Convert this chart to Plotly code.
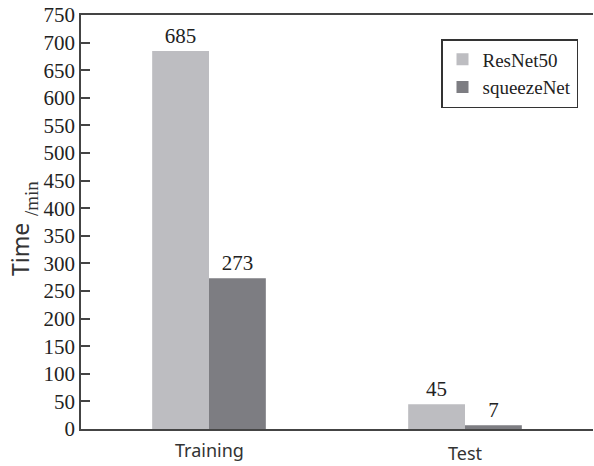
import plotly.graph_objects as go

categories = ["Training", "Test"]
resnet50 = [685, 45]
squeezenet = [273, 7]
series_names = ["ResNet50", "squeezeNet"]
y_ticks = list(range(0, 751, 50))

serif = "Liberation Serif, Times New Roman, serif"
sans = "Noto Sans, Roboto, sans-serif"

L, T, R, B = 81, 15, 593, 429  # plot area in page pixels
W, H = 594, 466

fig = go.Figure()
fig.add_trace(go.Bar(x=categories, y=resnet50, name=series_names[0],
                     marker=dict(color="#bdbdc1", line=dict(width=0)),
                     text=[str(v) for v in resnet50], textposition="outside",
                     textfont=dict(family=serif, size=21, color="#222"),
                     cliponaxis=False))
fig.add_trace(go.Bar(x=categories, y=squeezenet, name=series_names[1],
                     marker=dict(color="#7d7d82", line=dict(width=0)),
                     text=[str(v) for v in squeezenet], textposition="outside",
                     textfont=dict(family=serif, size=21, color="#222"),
                     cliponaxis=False))

fig.update_layout(
    width=W, height=H,
    margin=dict(l=L, r=W - R, t=T, b=H - B, autoexpand=False),
    paper_bgcolor="white", plot_bgcolor="white",
    barmode="group", bargap=0.556, bargroupgap=0,
    showlegend=True,
    legend=dict(x=(441 - L) / (R - L), y=(B - 39) / (B - T),
                xanchor="left", yanchor="top",
                bgcolor="white", bordercolor="#333", borderwidth=1.5,
                font=dict(family=serif, size=19, color="#222"),
                tracegroupgap=0, itemwidth=30),
    xaxis=dict(showline=True, linecolor="#444", linewidth=1.5, mirror=True,
               showticklabels=False, ticks="", showgrid=False, zeroline=False),
    yaxis=dict(range=[0, 750], tickvals=y_ticks, ticks="inside", ticklen=9,
               tickcolor="#444", tickwidth=1.5, showline=True, linecolor="#444",
               linewidth=1.5, showgrid=False, zeroline=False,
               tickfont=dict(family=serif, size=21, color="#222")),
    font=dict(family=serif, color="#222"),
)

def px_x(px):
    return (px - L) / (R - L)

def px_y(py):
    return (B - py) / (B - T)

fig.add_annotation(x="Training", y=px_y(450), xref="x", yref="paper",
                   yanchor="middle", text="Training", showarrow=False,
                   font=dict(family=sans, size=18, color="#333"))
fig.add_annotation(x="Test", y=px_y(453), xref="x", yref="paper",
                   yanchor="middle", text="Test", showarrow=False,
                   font=dict(family=sans, size=18, color="#333"))
fig.add_annotation(x=px_x(20), y=px_y(250), xref="paper", yref="paper",
                   xanchor="center", yanchor="middle", text="Time",
                   showarrow=False, textangle=-90,
                   font=dict(family=sans, size=23, color="#333"))
fig.add_annotation(x=px_x(31), y=px_y(199), xref="paper", yref="paper",
                   xanchor="center", yanchor="middle", text="/min",
                   showarrow=False, textangle=-90,
                   font=dict(family=serif, size=19, color="#333"))

fig.write_html("out.html", config={"displayModeBar": False},
               post_script="document.body.style.margin='0';")
